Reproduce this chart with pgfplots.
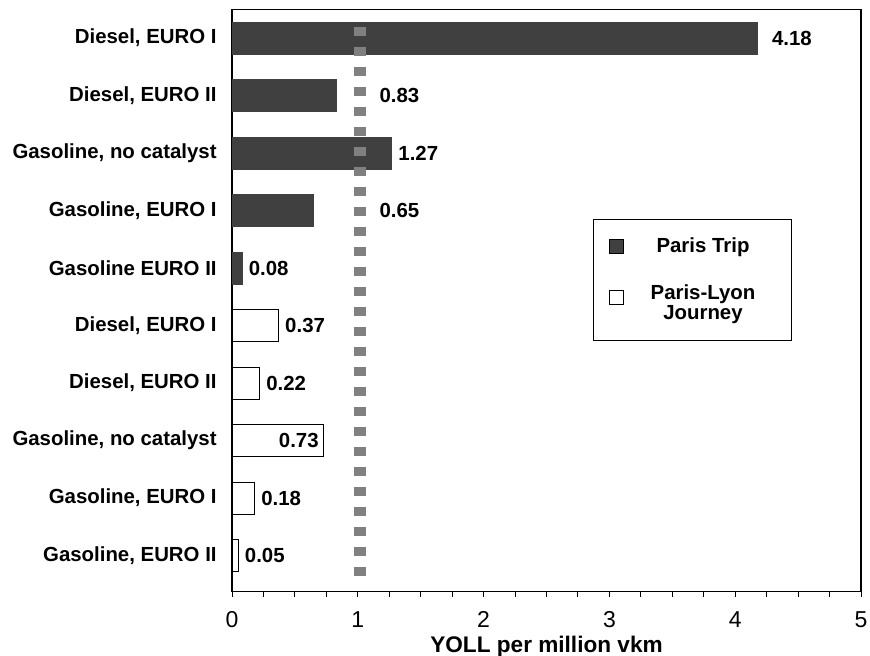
\documentclass[border=0pt]{standalone}
\usepackage{fontspec}
\setmainfont{Liberation Sans}
\usepackage{pgfplots}
\usepackage{pgfplotstable}
\pgfplotsset{compat=1.18}
\usetikzlibrary{calc}

\definecolor{bardark}{RGB}{64,64,64}
\definecolor{refgray}{RGB}{128,128,128}

% y: row position (top = 10), val: YOLL per million vkm, labx: where the value label starts
\pgfplotstableread{
y  val   labx
10 4.18  4.29
9  0.83  1.17
8  1.27  1.32
7  0.65  1.17
6  0.08  0.13
}\paristrip

\pgfplotstableread{
y  val   labx
5  0.37  0.42
4  0.22  0.27
3  0.73  0.37
2  0.18  0.23
1  0.05  0.10
}\parislyon

\begin{document}
\begin{tikzpicture}
\begin{axis}[
  scale only axis,
  width=314.5pt, height=291.2pt,
  xmin=0, xmax=5,
  ymin=0.37, ymax=10.5,
  axis line style={line width=0.7pt},
  /pgf/number format/assume math mode=true,
  xtick={0,1,2,3,4,5},
  minor x tick num=3,
  tick align=outside,
  xtick pos=bottom,
  major tick length=2.5pt,
  minor tick length=2.5pt,
  every tick/.style={black, line width=0.5pt},
  xticklabel style={font=\fontsize{11.5}{13}\selectfont, anchor=base, yshift=-15.5pt},
  ytick={1,...,10},
  yticklabels={{Gasoline, EURO II},{Gasoline, EURO I},{Gasoline, no catalyst},{Diesel, EURO II},{Diesel, EURO I},
               {Gasoline EURO II},{Gasoline, EURO I},{Gasoline, no catalyst},{Diesel, EURO II},{Diesel, EURO I}},
  ytick style={draw=none},
  yticklabel style={font=\fontsize{10.2}{12}\selectfont\bfseries, inner xsep=0pt, xshift=-5pt},
  xlabel={YOLL per million vkm},
  xlabel style={font=\fontsize{11.3}{13}\selectfont\bfseries, at={(axis description cs:0.5,0)}, anchor=base, yshift=-30.5pt},
  legend style={at={(0.574,0.64)}, anchor=north west, draw=black, line width=0.6pt,
    font=\fontsize{10.2}{10}\selectfont\bfseries,
    cells={align=center},
    inner xsep=7.5pt, inner ysep=7pt, row sep=10.5pt, column sep=3pt},
  legend cell align=center,
]
\addplot[xbar, bar shift=0pt, bar width=16pt, fill=bardark, draw=bardark, line width=0.4pt,
  legend image code/.code={\draw[fill=bardark, draw=black, line width=0.5pt] (0pt,-3.4pt) rectangle (7pt,3.6pt);}]
  table[x=val, y=y] {\paristrip};
\addlegendentry[inner xsep=10.5pt]{Paris Trip}
\addplot[xbar, bar shift=0pt, bar width=16pt, fill=white, draw=black, line width=0.5pt,
  legend image code/.code={\draw[fill=white, draw=black, line width=0.5pt] (0pt,-0.6pt) rectangle (7pt,6.4pt);}]
  table[x=val, y=y] {\parislyon};
\addlegendentry[inner xsep=10.5pt]{Paris-Lyon\\\smash{Journey}}

% reference level at about one YOLL per million vkm
\addplot[refgray, line width=6pt, dash pattern=on 4.5pt off 5.5pt, forget plot]
  coordinates {(1.02,10.19) (1.02,0.52)};

% value labels
\addplot[draw=none, mark=none, forget plot,
  nodes near coords, point meta=explicit,
  nodes near coords style={anchor=west, inner sep=0pt, font=\fontsize{10.2}{12}\selectfont\bfseries,
    /pgf/number format/fixed, /pgf/number format/zerofill, /pgf/number format/precision=2,
    /pgf/number format/assume math mode=true}]
  table[x=labx, y=y, meta=val] {\paristrip};
\addplot[draw=none, mark=none, forget plot,
  nodes near coords, point meta=explicit,
  nodes near coords style={anchor=west, inner sep=0pt, font=\fontsize{10.2}{12}\selectfont\bfseries,
    /pgf/number format/fixed, /pgf/number format/zerofill, /pgf/number format/precision=2,
    /pgf/number format/assume math mode=true}]
  table[x=labx, y=y, meta=val] {\parislyon};
\end{axis}
\pgfresetboundingbox
\path ($(current axis.south west)+(-116pt,-31.65pt)$) rectangle ($(current axis.north east)+(4.5pt,4.65pt)$);
\end{tikzpicture}
\end{document}
